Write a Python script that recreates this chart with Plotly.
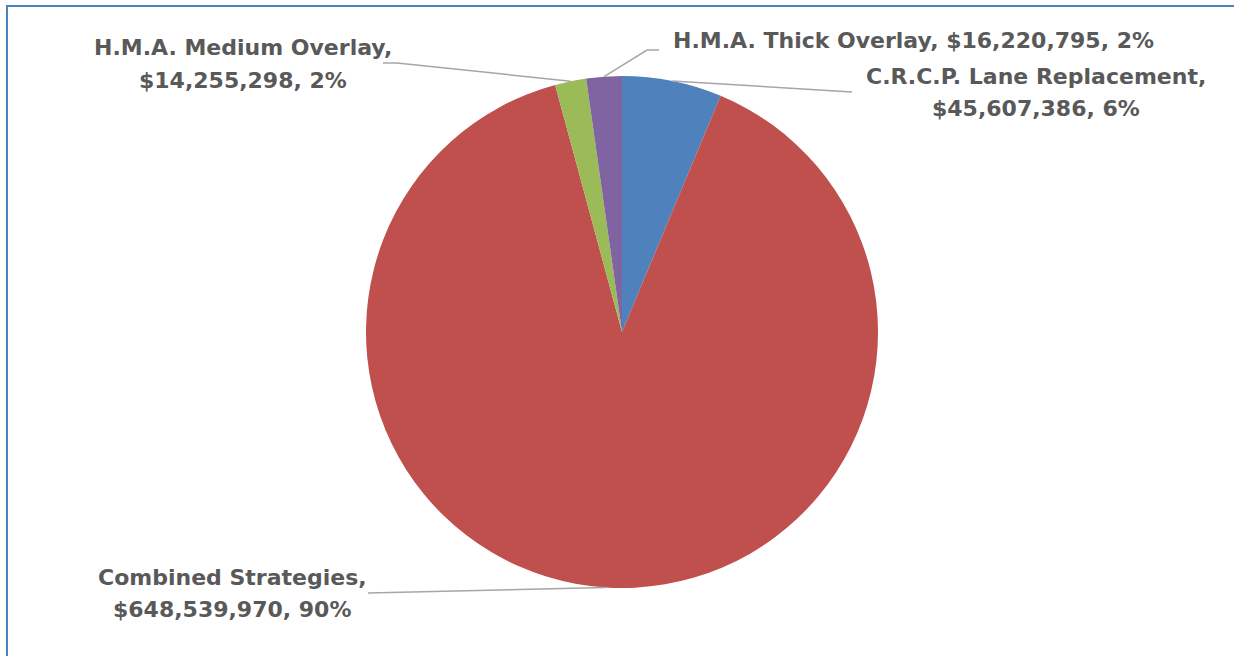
import math
import plotly.graph_objects as go

# Cost by strategy
categories = [
    "C.R.C.P. Lane Replacement",
    "Combined Strategies",
    "H.M.A. Medium Overlay",
    "H.M.A. Thick Overlay",
]
costs = [45607386, 648539970, 14255298, 16220795]
colors = ["#4F81BD", "#C0504D", "#9BBB59", "#8064A2"]

W, H = 1234, 656
CX, CY, R = 622, 332, 256  # pie centre and radius in pixels
LINE_GAP = 32              # spacing between label lines

TEXT_COLOR = "#595959"
FONT = dict(family="DejaVu Sans", size=22, color=TEXT_COLOR, weight="bold")

fig = go.Figure(
    go.Pie(
        labels=categories,
        values=costs,
        sort=False,
        direction="clockwise",
        rotation=0,
        marker=dict(colors=colors, line=dict(width=0)),
        textinfo="none",
        hoverinfo="label+value+percent",
        showlegend=False,
        domain=dict(
            x=[(CX - R) / W, (CX + R) / W],
            y=[1 - (CY + R) / H, 1 - (CY - R) / H],
        ),
    )
)

total = sum(costs)


def px(x, y):
    return x / W, 1 - y / H


# mid-angle edge point for each slice (clockwise from 12 o'clock)
edge = []
acc = 0.0
for v in costs:
    mid = (acc + v / 2) / total * 2 * math.pi
    edge.append((CX + R * math.sin(mid), CY - R * math.cos(mid)))
    acc += v

parts = []
for name, v in zip(categories, costs):
    pct = round(v / total * 100)
    parts.append((name, f"${v:,.0f}", f"{pct}%"))

# label placement: centre x, first-line y, lines, leader elbows
label_layout = [
    dict(x=1036, y=76, lines=[f"{parts[0][0]},", f"{parts[0][1]}, {parts[0][2]}"],
         path=[(852, 92)]),
    dict(x=232, y=577, lines=[f"{parts[1][0]},", f"{parts[1][1]}, {parts[1][2]}"],
         path=[(368, 593)]),
    dict(x=243, y=48, lines=[f"{parts[2][0]},", f"{parts[2][1]}, {parts[2][2]}"],
         path=[(397, 63), (383, 63)]),
    dict(x=913, y=40, lines=[f"{parts[3][0]}, {parts[3][1]}, {parts[3][2]}"],
         path=[(647, 50), (659, 50)]),
]

shapes = []
annotations = []
for (ex, ey), lab in zip(edge, label_layout):
    pts = [(ex, ey)] + lab["path"]
    d = "M " + " L ".join(f"{x / W:.5f},{1 - y / H:.5f}" for x, y in pts)
    shapes.append(dict(type="path", xref="paper", yref="paper", path=d,
                       line=dict(color="#A6A6A6", width=1.5)))
    for i, line in enumerate(lab["lines"]):
        x, y = px(lab["x"], lab["y"] + i * LINE_GAP)
        annotations.append(dict(x=x, y=y, xref="paper", yref="paper", text=line,
                                showarrow=False, font=FONT, align="center",
                                xanchor="center", yanchor="middle"))

# chart area frame
shapes.append(dict(type="rect", xref="paper", yref="paper",
                   x0=7 / W, x1=1.02, y0=-0.05, y1=1 - 6 / H,
                   line=dict(color="#4F81BD", width=2), layer="below"))

fig.update_layout(
    width=W,
    height=H,
    margin=dict(l=0, r=0, t=0, b=0),
    paper_bgcolor="white",
    plot_bgcolor="white",
    shapes=shapes,
    annotations=annotations,
)

fig.write_html("out.html")
